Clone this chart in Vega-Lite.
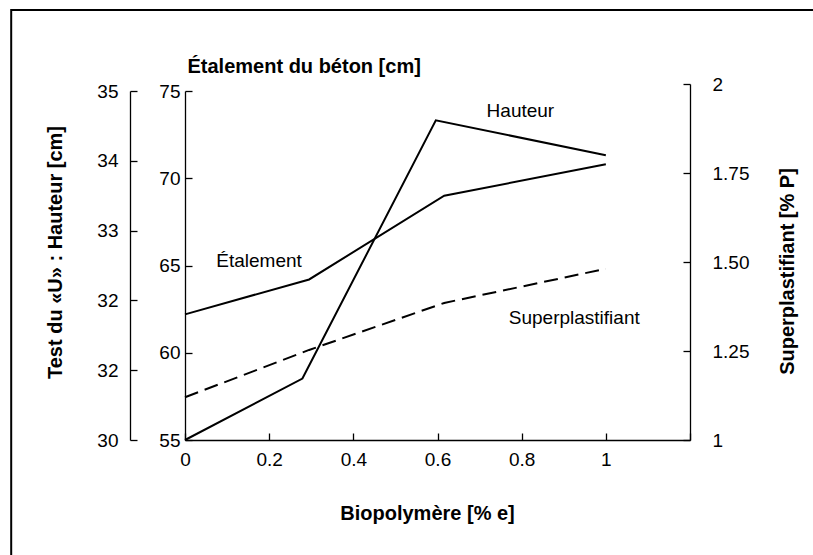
{
  "$schema": "https://vega.github.io/schema/vega-lite/v6.json",
  "width": 505,
  "height": 356,
  "autosize": "none",
  "padding": {"left": 185, "top": 84, "right": 123, "bottom": 115},
  "background": "white",
  "config": {
    "view": {"stroke": null},
    "font": "Liberation Sans",
    "axis": {
      "grid": false,
      "domainColor": "black",
      "tickColor": "black",
      "labelColor": "black",
      "titleColor": "black",
      "labelFont": "Liberation Sans",
      "titleFont": "Liberation Sans",
      "labelFontSize": 19,
      "titleFontSize": 20,
      "titleFontWeight": "bold",
      "tickSize": -7,
      "domainWidth": 1.3,
      "tickWidth": 1.3,
      "labelOverlap": false,
      "labelFlush": false
    }
  },
  "datasets": {
    "etalement": [
      {"x": 0, "y": 62.2},
      {"x": 0.295, "y": 64.2},
      {"x": 0.616, "y": 69.0},
      {"x": 1.0, "y": 70.8}
    ],
    "hauteur": [
      {"x": 0, "y": 30.0},
      {"x": 0.279, "y": 30.88},
      {"x": 0.596, "y": 34.58},
      {"x": 1.0, "y": 34.08}
    ],
    "superplastifiant": [
      {"x": 0, "y": 1.12},
      {"x": 0.295, "y": 1.253},
      {"x": 0.616, "y": 1.385},
      {"x": 1.0, "y": 1.481}
    ],
    "labels": [
      {"label": "Hauteur", "x": 0.797, "y": 1.925},
      {"label": "Étalement", "x": 0.176, "y": 1.503},
      {"label": "Superplastifiant", "x": 0.925, "y": 1.343}
    ]
  },
  "layer": [
    {
      "data": {"name": "etalement"},
      "mark": {"type": "line", "color": "black", "strokeWidth": 2},
      "encoding": {
        "x": {
          "field": "x", "type": "quantitative",
          "scale": {"domain": [0, 1.2]},
          "axis": {
            "values": [0, 0.2, 0.4, 0.6, 0.8, 1, 1.2],
            "labelExpr": "datum.value > 1.1 ? '' : '' + round(datum.value * 10) / 10",
            "labelPadding": 17,
            "title": "Biopolymère [% e]",
            "titleX": 242,
            "titleY": 73,
            "titleBaseline": "middle",
            "titleAlign": "center"
          }
        },
        "y": {
          "field": "y", "type": "quantitative",
          "scale": {"domain": [55, 75], "range": [356, 7]},
          "axis": {
            "orient": "left",
            "values": [55, 60, 65, 70, 75],
            "labelPadding": 12,
            "title": "Étalement du béton [cm]",
            "titleAngle": 0,
            "titleAlign": "left",
            "titleBaseline": "middle",
            "titleX": 2,
            "titleY": -18
          }
        }
      }
    },
    {
      "layer": [
        {
          "data": {"name": "hauteur"},
          "mark": {"type": "line", "color": "black", "strokeWidth": 2},
          "encoding": {
            "x": {"field": "x", "type": "quantitative", "scale": {"domain": [0, 1.2]}},
            "y": {
              "field": "y", "type": "quantitative",
              "scale": {"domain": [30, 35], "range": [356, 7]},
              "axis": {
                "orient": "left",
                "offset": 55,
                "values": [30, 31, 32, 33, 34, 35],
                "labelExpr": "datum.value == 31 ? '32' : '' + datum.value",
                "labelPadding": 19,
                "title": "Test du «U» : Hauteur [cm]",
                "titleAngle": 270,
                "titleAlign": "center",
                "titleBaseline": "middle",
                "titleX": -75,
                "titleY": 168
              }
            }
          }
        },
        {
          "data": {"values": [{"frame": "cadre"}]},
          "mark": {"type": "rect", "fill": null, "stroke": "black", "strokeWidth": 2},
          "encoding": {
            "x": {"datum": -0.413, "type": "quantitative"},
            "x2": {"datum": 1.7},
            "y": {"datum": 36.16, "type": "quantitative"},
            "y2": {"datum": 27}
          }
        }
      ]
    },
    {
      "layer": [
        {
          "data": {"name": "superplastifiant"},
          "mark": {"type": "line", "color": "black", "strokeWidth": 2, "strokeDash": [14, 7]},
          "encoding": {
            "x": {"field": "x", "type": "quantitative", "scale": {"domain": [0, 1.2]}},
            "y": {
              "field": "y", "type": "quantitative",
              "scale": {"domain": [1, 2]},
              "axis": {
                "orient": "right",
                "values": [1, 1.25, 1.5, 1.75, 2],
                "labelExpr": "datum.value == 1 ? '1' : datum.value == 2 ? '2' : format(datum.value, '.2f')",
                "labelPadding": 29,
                "title": "Superplastifiant [% P]",
                "titleAngle": 270,
                "titleAlign": "center",
                "titleBaseline": "middle",
                "titleX": 97,
                "titleY": 187
              }
            }
          }
        },
        {
          "data": {"name": "labels"},
          "mark": {"type": "text", "font": "Liberation Sans", "fontSize": 19, "color": "black", "align": "center", "baseline": "middle"},
          "encoding": {
            "x": {"field": "x", "type": "quantitative"},
            "y": {"field": "y", "type": "quantitative"},
            "text": {"field": "label"}
          }
        }
      ]
    }
  ],
  "resolve": {"scale": {"y": "independent"}, "axis": {"y": "independent"}}
}
